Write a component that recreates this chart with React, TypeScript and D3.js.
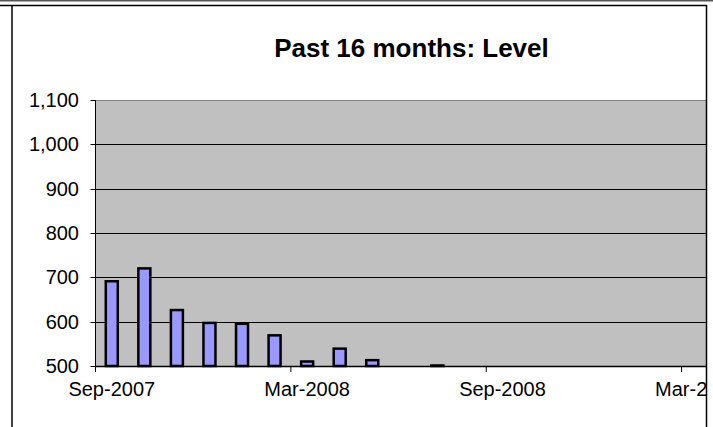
import React from "react";
import * as d3 from "d3";

const months = [
  "Sep-2007","Oct-2007","Nov-2007","Dec-2007","Jan-2008","Feb-2008","Mar-2008","Apr-2008",
  "May-2008","Jun-2008","Jul-2008","Aug-2008","Sep-2008","Oct-2008","Nov-2008","Dec-2008",
];
const levels: (number | null)[] = [694, 723, 629, 600, 598, 572, 513, 542, 516, null, 504, null, null, null, null, null];
// axis continues past the data (Excel date axis wider than the visible frame)
const axisMonths = [
  ...months,
  "Jan-2009","Feb-2009","Mar-2009","Apr-2009","May-2009","Jun-2009","Jul-2009","Aug-2009",
];
const xTickLabels = ["Sep-2007", "Mar-2008", "Sep-2008", "Mar-2009"];
const yTicks = [500, 600, 700, 800, 900, 1000, 1100];
const title = "Past 16 months: Level";

const W = 713;
const H = 427;
const FONT = "'Liberation Sans', Arial, Helvetica, sans-serif";

export default function App() {
  const plotLeft = 95.5;
  const monthW = 32.56;
  const plotTop = 100;
  const plotBottom = 366;
  const clipRight = 706;

  const x = d3
    .scaleBand<string>()
    .domain(axisMonths)
    .range([plotLeft, plotLeft + monthW * axisMonths.length])
    .paddingInner(0)
    .paddingOuter(0);
  const y = d3.scaleLinear().domain([500, 1100]).range([plotBottom, plotTop]);
  const fmt = d3.format(",");
  const barW = 14.5;
  const sw = 2.5;

  return (
    <svg
      width={W}
      height={H}
      style={{ position: "absolute", left: 0, top: 0, background: "#fff" }}
      fontFamily={FONT}
    >
      <defs>
        <clipPath id="plotclip">
          <rect x={plotLeft} y={plotTop - 1} width={clipRight - plotLeft} height={plotBottom - plotTop + 12} />
        </clipPath>
        <clipPath id="labelclip">
          <rect x={0} y={0} width={clipRight} height={H} />
        </clipPath>
      </defs>

      {/* page frame */}
      <line x1={0} x2={W} y1={0.5} y2={0.5} stroke="#555" strokeWidth={2} />
      <line x1={0} x2={clipRight + 1} y1={5.5} y2={5.5} stroke="#000" strokeWidth={1.5} />
      <line x1={12} x2={12} y1={5} y2={H} stroke="#000" strokeWidth={1.5} />

      {/* title */}
      <text x={411.5} y={57} textAnchor="middle" fontSize={26} fontWeight="bold" fill="#000">
        {title}
      </text>

      <g clipPath="url(#plotclip)">
        {/* plot background */}
        <rect x={plotLeft} y={plotTop} width={clipRight - plotLeft} height={plotBottom - plotTop} fill="#C0C0C0" />
        {/* gridlines */}
        {yTicks.slice(1).map((t) => (
          <line
            key={t}
            x1={plotLeft}
            x2={clipRight}
            y1={Math.round(y(t)) + 0.5}
            y2={Math.round(y(t)) + 0.5}
            stroke={t === 1100 ? "#808080" : "#000"}
            strokeWidth={1}
          />
        ))}
        {/* bars */}
        {months.map((m, i) => {
          const v = levels[i];
          if (v == null) return null;
          const cx = (x(m) as number) + x.bandwidth() / 2;
          const top = y(v);
          return (
            <rect
              key={m}
              x={cx - barW / 2 + sw / 2}
              y={top + sw / 2}
              width={barW - sw}
              height={Math.max(0, plotBottom - top - sw / 2)}
              fill="#9999FF"
              stroke="#000"
              strokeWidth={sw}
            />
          );
        })}
        {/* x axis line */}
        <line x1={plotLeft} x2={clipRight} y1={plotBottom + 0.5} y2={plotBottom + 0.5} stroke="#000" strokeWidth={1.5} />
        {/* x ticks */}
        {xTickLabels.map((lab) => {
          const px = x(lab) as number;
          return <line key={lab} x1={px} x2={px} y1={plotBottom} y2={plotBottom + 6} stroke="#000" strokeWidth={1} />;
        })}
      </g>

      {/* y axis */}
      <line x1={plotLeft} x2={plotLeft} y1={plotTop} y2={plotBottom + 6} stroke="#000" strokeWidth={1} />
      {yTicks.map((t) => (
        <g key={t}>
          <line x1={plotLeft - 5} x2={plotLeft} y1={Math.round(y(t)) + 0.5} y2={Math.round(y(t)) + 0.5} stroke="#000" />
          <text x={79} y={y(t)} dy="0.35em" textAnchor="end" fontSize={20} fill="#000">
            {fmt(t)}
          </text>
        </g>
      ))}

      {/* x labels (last one cut by the frame, as in the reference) */}
      <g clipPath="url(#labelclip)">
        {xTickLabels.map((lab) => {
          const cx = (x(lab) as number) + x.bandwidth() / 2;
          return (
            <text key={lab} x={cx} y={396} textAnchor="middle" fontSize={20} fill="#000">
              {lab}
            </text>
          );
        })}
      </g>

      {/* right frame edge */}
      <line x1={clipRight + 0.5} x2={clipRight + 0.5} y1={5} y2={H} stroke="#000" strokeWidth={1.5} />
    </svg>
  );
}
